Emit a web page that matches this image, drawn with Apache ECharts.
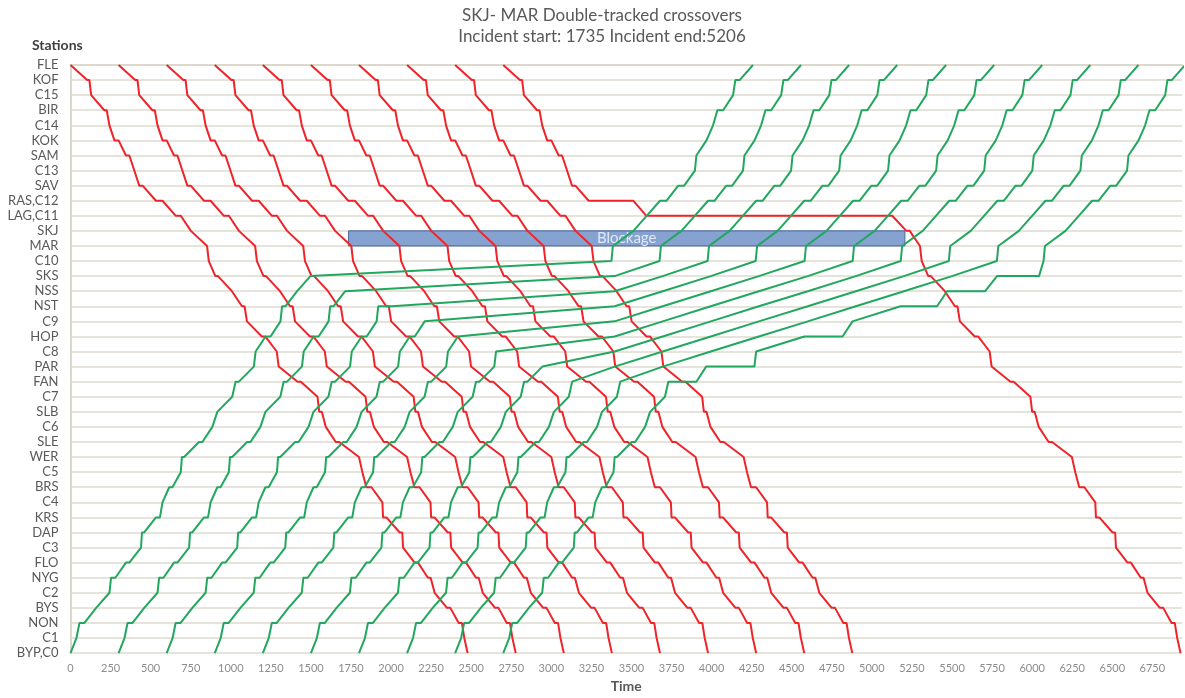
<!DOCTYPE html>
<html><head><meta charset="utf-8">
<script src="https://cdn.jsdelivr.net/npm/echarts@6/dist/echarts.min.js"></script>
<style>html,body{margin:0;padding:0;background:#fff;overflow:hidden}#c{width:1185px;height:698px}</style>
</head><body><div id="c"></div>
<script>
// ---------- data ----------
const stations = ["FLE","KOF","C15","BIR","C14","KOK","SAM","C13","SAV","RAS,C12","LAG,C11","SKJ","MAR","C10","SKS","NSS","NST","C9","HOP","C8","PAR","FAN","C7","SLB","C6","SLE","WER","C5","BRS","C4","KRS","DAP","C3","FLO","NYG","C2","BYS","NON","C1","BYP,C0"];
const xTicks = [0,250,500,750,1000,1250,1500,1750,2000,2250,2500,2750,3000,3250,3500,3750,4000,4250,4500,4750,5000,5250,5500,5750,6000,6250,6500,6750];
const incidentStart = 1735, incidentEnd = 5206;
const blockedBetween = ["SKJ","MAR"];

// southbound (red) trains: departure from FLE (s)
const redDepartures = [0,300,600,900,1200,1500,1800,2100,2400,2700];
// running profile of a southbound train: [station index, seconds after FLE departure]
const redProfile = [[0,0],[1,104],[1,118],[2,129],[3,211],[3,226],[4,243],[5,274],[5,300],[6,346],[6,367],[7,398],[8,429],[8,450],[9,533],[9,574],[10,657],[10,688],[11,751],[12,852],[13,863],[14,904],[14,920],[15,1007],[16,1070],[16,1086],[17,1101],[18,1194],[18,1215],[19,1287],[20,1299],[21,1417],[21,1437],[22,1541],[23,1552],[23,1568],[24,1593],[25,1655],[25,1676],[26,1800],[26,1810],[27,1821],[28,1846],[28,1878],[29,1946],[30,1950],[30,1971],[31,2054],[31,2070],[32,2075],[33,2147],[33,2168],[34,2230],[34,2247],[35,2272],[36,2349],[36,2370],[37,2422],[37,2442],[38,2457],[39,2478]];
// last southbound train, held north of the blockage: [station index, time]
const redHeld = [[9,3511],[10,3593],[10,5127],[11,5215],[11,5236],[12,5300]];

// northbound (green) trains: departure from BYP (s)
const greenDepartures = [0,300,600,900,1200,1500,1800,2100,2400,2700];
const greenLowerProfile = [[39,0],[38,37],[37,56],[37,87],[36,160],[36,168],[35,243],[34,253],[34,280],[33,346],[33,367],[32,440],[31,446],[31,460],[30,533],[30,558],[29,574],[28,616],[28,636],[27,688],[26,695],[26,709],[25,802],[25,823],[24,885],[23,916],[23,927],[22,1009],[21,1030],[21,1051],[20,1144],[19,1155],[18,1217],[18,1248],[17,1310],[16,1320],[16,1341],[15,1414],[14,1497]];
const greenUpperProfile = [[13,0],[12,9],[11,137],[10,220],[9,303],[9,344],[8,417],[8,454],[7,521],[6,530],[5,593],[4,634],[3,661],[3,697],[2,759],[1,773],[1,800],[0,883]];
// station where each northbound train is first stopped
const greenStop = [14,15,16,17,18,19,20,21,21,21];
// queue moves while waiting: [station index, time]
const greenQueue = [
  [],
  [[14,3395]],
  [[16,2006],[15,3395],[14,3695]],
  [[16,3395],[15,3695],[14,3995]],
  [[17,3395],[16,3695],[15,3995],[14,4295]],
  [[18,3395],[17,3695],[16,3995],[15,4295],[14,4600]],
  [[19,3395],[18,3695],[17,3995],[16,4295],[15,4600],[14,4900]],
  [[20,3395],[19,3695],[18,3995],[17,4295],[16,4600],[15,4900],[14,5200]],
  [[20,3695],[19,3995],[18,4295],[17,4600],[16,4900],[15,5200],[14,5500]],
  [[21,3905],[20,3966],[20,4267],[19,4278],[18,4579],[18,4817],[17,4879],[16,5179],[16,5407],[15,5469],[15,5707],[14,5781],[14,6043]]
];
// time each northbound train reaches C10 and continues north
const greenRelease = [3375,3675,3975,4275,4580,4880,5180,5480,5780,6071];

// ---------- build ----------
const RED = '#ee2429', GREEN = '#22a75f';
const series = [];
function line(pts, color){
  series.push({type:'line', data:pts, showSymbol:false, symbol:'none', silent:true,
    lineStyle:{color:color, width:2}, z:3});
}
redDepartures.forEach((d,i)=>{
  if (i < redDepartures.length-1) {
    line(redProfile.map(p=>[d+p[1], p[0]]), RED);
  } else {
    const pts = [];
    let seen9 = false;
    for (const p of redProfile) { if (p[0] < 9 || (p[0]===9 && !seen9)) { pts.push([d+p[1],p[0]]); if(p[0]===9) seen9=true; } }
    redHeld.forEach(p=>pts.push([p[1],p[0]]));
    const marT = redHeld[redHeld.length-1][1];
    const marOff = redProfile.find(p=>p[0]===12)[1];
    for (const p of redProfile) if (p[0] >= 13) pts.push([marT - marOff + p[1], p[0]]);
    line(pts, RED);
  }
});
greenDepartures.forEach((d,i)=>{
  const stop = greenStop[i];
  const pts = [];
  let seenStop = false;
  for (const p of greenLowerProfile) {
    if (p[0] > stop) pts.push([d+p[1],p[0]]);
    else if (p[0]===stop && !seenStop) { pts.push([d+p[1],p[0]]); seenStop = true; }
  }
  greenQueue[i].forEach(p=>pts.push([p[1],p[0]]));
  greenUpperProfile.forEach(p=>pts.push([greenRelease[i]+p[1],p[0]]));
  line(pts, GREEN);
});
// blockage
series.push({type:'line', data:[], silent:true, z:5,
  markArea:{silent:true,
    itemStyle:{color:'rgba(112,146,201,0.85)', borderColor:'#44669f', borderWidth:1},
    label:{show:true, position:'inside', color:'rgba(232,238,248,0.92)', fontSize:15, fontFamily:'Lato'},
    data:[[{name:'Blockage', coord:[incidentStart, stations.indexOf(blockedBetween[0])]},
           {coord:[incidentEnd, stations.indexOf(blockedBetween[1])]}]]}
});

const chart = echarts.init(document.getElementById('c'), null, {renderer:'canvas'});
chart.setOption({
  animation:false,
  backgroundColor:'#ffffff',
  grid:{left:70.5, top:65, width:1114.5, height:595, containLabel:false},
  xAxis:{type:'value', min:0, max:6935, interval:250,
    axisLine:{show:true, lineStyle:{color:'#dcd8cb', width:2}},
    axisTick:{show:false}, splitLine:{show:false},
    axisLabel:{color:'#8c8c8c', fontSize:11, fontFamily:'Lato', margin:10,
      formatter:v=>xTicks.includes(v)?String(v):''},
    name:'Time', nameLocation:'middle', nameGap:22,
    nameTextStyle:{color:'#595959', fontSize:14, fontWeight:'bold', fontFamily:'Lato'}},
  yAxis:{type:'value', min:0, max:39, interval:1, inverse:true,
    axisLine:{show:true, lineStyle:{color:'#dcd8cb', width:2}},
    axisTick:{show:false},
    splitLine:{show:true, lineStyle:{color:'#e6e3da', width:2}},
    axisLabel:{color:'#595959', fontSize:13, fontFamily:'Lato', margin:12,
      formatter:v=>stations[v]||''}},
  graphic:[
    {type:'text', x:602, y:7, style:{text:'SKJ- MAR Double-tracked crossovers', fill:'#595959', font:'17px Lato', textAlign:'center'}},
    {type:'text', x:602, y:28, style:{text:'Incident start: 1735 Incident end:5206', fill:'#595959', font:'17px Lato', textAlign:'center'}},
    {type:'text', left:32, top:38, style:{text:'Stations', fill:'#404040', font:'bold 14px Lato'}}
  ],
  series:series
});
</script></body></html>
